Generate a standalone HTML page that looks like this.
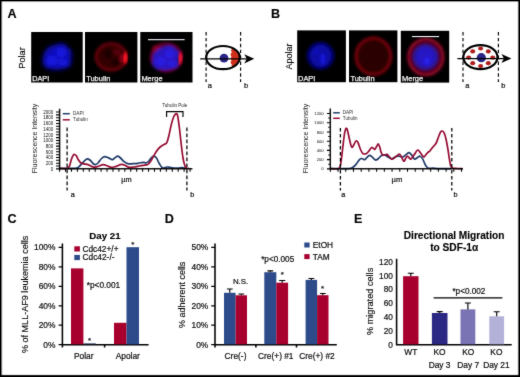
<!DOCTYPE html>
<html><head><meta charset="utf-8"><title>Figure</title>
<style>
html,body{margin:0;padding:0;background:#fff;}
body{width:520px;height:377px;overflow:hidden;}
svg{display:block;font-family:"Liberation Sans",sans-serif;}
text{stroke:#0c0c0c;stroke-width:0.2px;paint-order:stroke;}
text.w{stroke:#f4f4f4;stroke-width:0.25px;}
text.b{stroke:#000;stroke-width:0.12px;}
text.t{stroke:none;}
text.L{stroke:#000;stroke-width:0.12px;}
text.r{stroke-width:0.15px;}
</style></head><body>
<svg width="520" height="377" viewBox="0 0 520 377">
<defs>
<filter id="b1" x="-30%" y="-30%" width="160%" height="160%"><feGaussianBlur stdDeviation="1.8"/></filter>
<filter id="b2" x="-30%" y="-30%" width="160%" height="160%"><feGaussianBlur stdDeviation="1.1"/></filter>
<filter id="soft" filterUnits="userSpaceOnUse" x="-4" y="-4" width="528" height="385" color-interpolation-filters="sRGB"><feConvolveMatrix order="3" kernelMatrix="1 4 1 4 40 4 1 4 1" divisor="60" edgeMode="duplicate" preserveAlpha="false"/></filter>
<clipPath id="cA1"><rect x="31.2" y="32" width="51.4" height="50.6"/></clipPath>
<clipPath id="cA2"><rect x="85" y="32" width="52.3" height="50.6"/></clipPath>
<clipPath id="cA3"><rect x="140.3" y="32" width="52.2" height="50.6"/></clipPath>
<clipPath id="cB1"><rect x="297.2" y="30.6" width="48.5" height="51.6"/></clipPath>
<clipPath id="cB2"><rect x="349" y="30.6" width="48.5" height="51.6"/></clipPath>
<clipPath id="cB3"><rect x="401" y="30.6" width="48.4" height="51.6"/></clipPath>
</defs>
<rect x="0" y="0" width="520" height="377" fill="#fff"/>
<g filter="url(#soft)">

<text class="L" x="7.5" y="18" font-size="12.6" font-weight="bold" fill="#000">A</text>
<text class="L" x="271.0" y="18" font-size="12.6" font-weight="bold" fill="#000">B</text>
<text class="L" x="7.6" y="223.3" font-size="12.6" font-weight="bold" fill="#000">C</text>
<text class="L" x="164.8" y="223.3" font-size="12.6" font-weight="bold" fill="#000">D</text>
<text class="L" x="354.0" y="223.3" font-size="12.6" font-weight="bold" fill="#000">E</text>
<clipPath id="mp0"><rect x="31.2" y="32" width="51.5" height="50.5"/></clipPath>
<rect x="31.2" y="32" width="51.5" height="50.5" fill="#000"/>
<clipPath id="mp1"><rect x="85" y="32" width="52.4" height="50.5"/></clipPath>
<rect x="85" y="32" width="52.4" height="50.5" fill="#000"/>
<clipPath id="mp2"><rect x="140.3" y="32" width="52.2" height="50.5"/></clipPath>
<rect x="140.3" y="32" width="52.2" height="50.5" fill="#000"/>
<clipPath id="mp3"><rect x="297.2" y="30.4" width="48.7" height="51.8"/></clipPath>
<rect x="297.2" y="30.4" width="48.7" height="51.8" fill="#000"/>
<clipPath id="mp4"><rect x="349" y="30.4" width="48.4" height="51.8"/></clipPath>
<rect x="349" y="30.4" width="48.4" height="51.8" fill="#000"/>
<clipPath id="mp5"><rect x="400.8" y="30.8" width="48.4" height="51.8"/></clipPath>
<rect x="400.8" y="30.8" width="48.4" height="51.8" fill="#000"/>
<g clip-path="url(#mp0)"><g filter="url(#b1)" transform="translate(57 57.4) scale(1.08) translate(-57 -57.4)"><ellipse cx="57" cy="57.4" rx="12.8" ry="11.6" fill="#0c0cb4"/><ellipse cx="60.6" cy="50.6" rx="7" ry="6.4" fill="#0c0cb4"/><ellipse cx="51" cy="61.0" rx="7.6" ry="7.4" fill="#0c0cb4"/><ellipse cx="66" cy="52.9" rx="4.6" ry="4.6" fill="#0c0cb4"/><ellipse cx="65" cy="62.9" rx="5" ry="4.6" fill="#0c0cb4"/><ellipse cx="61" cy="52.8" rx="5" ry="4.6" fill="#1616e0"/><ellipse cx="52.4" cy="60.4" rx="5.5" ry="4.8" fill="#1616e0"/><ellipse cx="63" cy="62.4" rx="4" ry="3.2" fill="#1616e0"/><circle cx="71.6" cy="58.4" r="2" fill="#000"/></g></g>
<g clip-path="url(#mp1)"><g filter="url(#b1)"><ellipse cx="111.2" cy="56.8" rx="15.4" ry="13.4" fill="#330006"/><ellipse cx="111.2" cy="56.8" rx="15.4" ry="13.4" fill="none" stroke="#70000c" stroke-width="2.4"/><ellipse cx="108" cy="54" rx="4" ry="5" fill="#1c0003"/><ellipse cx="116" cy="62" rx="4" ry="4" fill="#1c0003"/><ellipse cx="117" cy="52" rx="3.5" ry="3" fill="#5a0008"/><ellipse cx="122.8" cy="58.5" rx="3.2" ry="4.4" fill="#8a0612"/></g><g filter="url(#b2)"><path d="M125.4 52.6Q128.2 58 125.2 63Q123.2 58 125.4 52.6Z" fill="#ff1424" stroke="#ff1424" stroke-width="1.6"/></g></g>
<g clip-path="url(#mp2)"><g filter="url(#b1)"><ellipse cx="166.4" cy="57.4" rx="15.4" ry="13.8" fill="#3a0028"/><ellipse cx="166.4" cy="57.4" rx="15.4" ry="13.8" fill="none" stroke="#700030" stroke-width="2.4"/><ellipse cx="157" cy="49" rx="5" ry="4" fill="#8a0020"/><ellipse cx="165.6" cy="58.6" rx="12.8" ry="11.6" fill="#2a14bc"/><ellipse cx="169.2" cy="51.800000000000004" rx="7" ry="6.4" fill="#2a14bc"/><ellipse cx="159.6" cy="62.2" rx="7.6" ry="7.4" fill="#2a14bc"/><ellipse cx="174.6" cy="54.1" rx="4.6" ry="4.6" fill="#2a14bc"/><ellipse cx="173.6" cy="64.1" rx="5" ry="4.6" fill="#2a14bc"/><ellipse cx="169.6" cy="54.0" rx="5" ry="4.6" fill="#2a1ae0"/><ellipse cx="161.0" cy="61.6" rx="5.5" ry="4.8" fill="#2a1ae0"/><ellipse cx="171.6" cy="63.6" rx="4" ry="3.2" fill="#2a1ae0"/><circle cx="180.2" cy="59.6" r="2" fill="#000"/></g><g filter="url(#b2)"><path d="M180.4 53Q183 58.4 180 63.4Q178.4 58.4 180.4 53Z" fill="#ff1430" stroke="#ff1430" stroke-width="1.6"/></g></g>
<rect x="148" y="39.1" width="36.6" height="1.1" fill="#f4f4ff"/>
<text class="w" x="32.2" y="81" font-size="7.28" fill="#f4f4f4">DAPI</text>
<text class="w" x="86.2" y="81" font-size="7.46" fill="#f4f4f4">Tubulin</text>
<text class="w" x="141.4" y="81" font-size="7.48" fill="#f4f4f4">Merge</text>
<g clip-path="url(#mp3)"><g filter="url(#b1)"><ellipse cx="320.5" cy="55.8" rx="14" ry="14" fill="#06066c"/><ellipse cx="320.5" cy="55.8" rx="10.4" ry="10.8" fill="#0c0ca4"/><ellipse cx="322.8" cy="59" rx="2.4" ry="5.6" fill="#1414dc"/><ellipse cx="316" cy="52" rx="2.4" ry="2.4" fill="#1010c0"/></g></g>
<g clip-path="url(#mp4)"><g filter="url(#b1)"><ellipse cx="373.4" cy="56.3" rx="17.6" ry="18.4" fill="#2a0004"/><ellipse cx="373.4" cy="56.3" rx="17.6" ry="18.4" fill="none" stroke="#8a000e" stroke-width="2.3"/></g></g>
<g clip-path="url(#mp5)"><g filter="url(#b1)"><ellipse cx="425.8" cy="57" rx="17.4" ry="18" fill="#48001c"/><ellipse cx="425.8" cy="57" rx="17.4" ry="18" fill="none" stroke="#98082a" stroke-width="2.6"/><ellipse cx="425.6" cy="57" rx="12.6" ry="12.6" fill="#2c1298"/><ellipse cx="425.6" cy="57" rx="9.6" ry="10" fill="#2616c4"/><ellipse cx="427" cy="61" rx="2.6" ry="3.6" fill="#2a20f0"/></g></g>
<rect x="411.9" y="36" width="27.2" height="1.1" fill="#f0f4ff"/>
<text class="w" x="298.0" y="81" font-size="7.46" fill="#f4f4f4">DAPI</text>
<text class="w" x="350.4" y="81" font-size="7.46" fill="#f4f4f4">Tubulin</text>
<text class="w" x="402.0" y="81" font-size="7.48" fill="#f4f4f4">Merge</text>
<text class="r" transform="translate(24.9 58.0) rotate(-90) scale(0.9441 1)" font-size="9.8" text-anchor="middle" fill="#0c0c0c">Polar</text>
<text class="r" transform="translate(292.2 56.5) rotate(-90) scale(0.9249 1)" font-size="9.8" text-anchor="middle" fill="#0c0c0c">Apolar</text>
<path d="M206.1 32V82M240.6 32V82" stroke="#000" stroke-width="1.15" stroke-dasharray="3.4 2.5" fill="none"/>
<clipPath id="ce1"><ellipse cx="223" cy="57.6" rx="16.3" ry="11.1"/></clipPath>
<g fill="#d0301c" clip-path="url(#ce1)"><circle cx="233.5" cy="50.4" r="2.4"/><circle cx="236.5" cy="53.4" r="2.8"/><circle cx="233.2" cy="54.6" r="2.5"/><circle cx="237.5" cy="57.1" r="3.2"/><circle cx="233.4" cy="58.2" r="2.5"/><circle cx="236.5" cy="61.2" r="3.0"/><circle cx="233.2" cy="62.2" r="2.5"/><circle cx="234.0" cy="65.4" r="2.4"/><circle cx="239.0" cy="57.6" r="3"/></g>
<ellipse cx="223" cy="57.6" rx="16.8" ry="11.6" fill="none" stroke="#000" stroke-width="2.2"/>
<circle cx="224" cy="58.2" r="4.4" fill="#2a2585"/>
<path d="M200.2 58.8H248.2" stroke="#000" stroke-width="1.25" fill="none"/>
<path d="M254.2 58.8L244.2 54.199999999999996L246.79999999999998 58.8L244.2 63.4Z" fill="#000"/>
<path d="M463 32V82M498.4 32V82" stroke="#000" stroke-width="1.15" stroke-dasharray="3.4 2.5" fill="none"/>
<clipPath id="ce2"><ellipse cx="480.4" cy="57.2" rx="16.6" ry="11.5"/></clipPath>
<g fill="#b01c1c"><ellipse cx="472.7" cy="51.4" rx="2.5" ry="2.1"/><ellipse cx="480.6" cy="48.5" rx="2.5" ry="2.1"/><ellipse cx="488.3" cy="51.4" rx="2.5" ry="2.1"/><ellipse cx="492.7" cy="57.6" rx="2.5" ry="2.1"/><ellipse cx="488.3" cy="63.2" rx="2.5" ry="2.1"/><ellipse cx="480.6" cy="66.1" rx="2.5" ry="2.1"/><ellipse cx="472.7" cy="63.2" rx="2.5" ry="2.1"/><ellipse cx="468.6" cy="57.6" rx="2.5" ry="2.1"/></g>
<ellipse cx="480.4" cy="57.2" rx="17.1" ry="12.0" fill="none" stroke="#000" stroke-width="2.2"/>
<circle cx="481.3" cy="57.7" r="4.6" fill="#2a2585"/>
<path d="M457.4 58.5H505.4" stroke="#000" stroke-width="1.25" fill="none"/>
<path d="M511.4 58.5L501.4 53.9L504.0 58.5L501.4 63.1Z" fill="#000"/>
<text x="209.9" y="88.4" font-size="7.5" text-anchor="middle" fill="#0c0c0c">a</text>
<text x="246" y="88.4" font-size="7.5" text-anchor="middle" fill="#0c0c0c">b</text>
<text x="467.4" y="88.4" font-size="7.5" text-anchor="middle" fill="#0c0c0c">a</text>
<text x="503.4" y="88.4" font-size="7.5" text-anchor="middle" fill="#0c0c0c">b</text>
<text class="t" x="53.2" y="170.58" font-size="4.46" text-anchor="end" fill="#0c0c0c">0</text>
<text class="t" x="53.2" y="164.90" font-size="4.46" text-anchor="end" fill="#0c0c0c">200</text>
<text class="t" x="53.2" y="159.22" font-size="4.46" text-anchor="end" fill="#0c0c0c">400</text>
<text class="t" x="53.2" y="153.54" font-size="4.46" text-anchor="end" fill="#0c0c0c">600</text>
<text class="t" x="53.2" y="147.86" font-size="4.46" text-anchor="end" fill="#0c0c0c">800</text>
<text class="t" x="53.2" y="142.18" font-size="4.46" text-anchor="end" fill="#0c0c0c">1000</text>
<text class="t" x="53.2" y="136.50" font-size="4.46" text-anchor="end" fill="#0c0c0c">1200</text>
<text class="t" x="53.2" y="130.82" font-size="4.46" text-anchor="end" fill="#0c0c0c">1400</text>
<text class="t" x="53.2" y="125.14" font-size="4.46" text-anchor="end" fill="#0c0c0c">1600</text>
<text class="t" x="53.2" y="119.46" font-size="4.46" text-anchor="end" fill="#0c0c0c">1800</text>
<text class="t" x="53.2" y="113.78" font-size="4.46" text-anchor="end" fill="#0c0c0c">2000</text>
<text class="t" transform="translate(37.0 138.5) rotate(-90) scale(0.9275 1)" font-size="7.5" text-anchor="middle" fill="#222">Fluorescence Intensity</text>
<path d="M62.8 113.7H69.8" stroke="#1f3a68" stroke-width="1.5"/><path d="M62.8 119.8H69.8" stroke="#950c33" stroke-width="1.5"/>
<text class="t" x="73" y="115.3" font-size="4.6" fill="#2a2a2a">DAPI</text><text class="t" x="73" y="121.4" font-size="4.6" fill="#2a2a2a">Tubulin</text>
<text class="t" x="174.8" y="107" font-size="4.56" text-anchor="middle" fill="#222">Tubulin Pole</text>
<path d="M166.6 116.9V111.6H183V116.9" stroke="#000" stroke-width="1.15" fill="none"/>
<path d="M59.6 168.4C62.0 168.4 70.9 168.5 74.0 168.4C77.1 168.3 76.7 168.4 78.0 167.6C79.3 166.8 80.8 164.8 82.0 163.5C83.2 162.2 84.5 160.6 85.5 159.8C86.5 159.0 86.9 158.7 87.7 158.8C88.5 158.9 89.6 159.7 90.5 160.5C91.4 161.3 92.2 162.8 93.0 163.5C93.8 164.2 94.6 164.7 95.4 164.6C96.2 164.5 97.0 164.0 98.0 163.0C99.0 162.0 100.4 159.6 101.5 158.5C102.6 157.4 103.5 156.8 104.6 156.6C105.7 156.4 106.7 157.1 108.0 157.6C109.3 158.1 111.1 159.7 112.3 159.7C113.5 159.7 114.3 158.2 115.2 157.6C116.1 157.0 116.8 156.1 117.7 156.2C118.6 156.3 119.5 157.1 120.5 158.0C121.5 158.9 122.7 160.6 124.0 161.6C125.3 162.6 127.0 163.5 128.5 163.8C130.0 164.2 131.4 163.8 133.0 163.7C134.6 163.6 136.3 163.5 138.0 163.3C139.7 163.1 141.7 162.4 143.0 162.3C144.3 162.2 145.1 162.9 146.0 162.8C146.9 162.7 147.6 162.4 148.5 161.5C149.4 160.6 150.6 158.5 151.5 157.6C152.4 156.7 153.0 156.1 153.8 156.2C154.6 156.3 155.6 156.7 156.5 158.0C157.4 159.3 158.5 162.4 159.5 164.0C160.5 165.6 161.4 167.2 162.3 167.8C163.2 168.4 164.1 167.7 165.0 167.6C165.9 167.5 166.5 167.0 167.7 167.0C168.9 167.0 170.3 167.6 172.0 167.8C173.7 168.0 176.3 168.0 178.0 168.0C179.7 168.0 180.6 167.5 182.0 167.6C183.4 167.7 185.8 168.3 186.5 168.4" stroke="#1f3a68" stroke-width="1.7" fill="none" stroke-linejoin="round"/>
<path d="M59.6 168.4C60.8 168.4 65.3 168.7 67.0 168.3C68.7 167.9 68.8 167.6 69.5 166.0C70.2 164.4 70.9 160.8 71.5 159.0C72.1 157.2 72.7 155.9 73.2 155.2C73.7 154.4 74.1 154.4 74.6 154.5C75.1 154.6 75.5 154.7 76.2 155.6C76.9 156.5 77.7 158.8 78.5 160.0C79.3 161.2 80.1 162.3 81.0 163.0C81.9 163.7 82.8 163.6 84.0 163.9C85.2 164.2 86.8 164.2 88.0 164.6C89.2 165.0 90.4 166.0 91.5 166.4C92.6 166.8 93.4 167.2 94.6 167.2C95.8 167.2 97.1 166.6 98.5 166.2C99.9 165.8 101.6 164.7 103.0 164.6C104.4 164.5 105.6 165.3 107.0 165.8C108.4 166.3 110.0 167.3 111.5 167.4C113.0 167.5 114.3 166.9 116.0 166.4C117.7 165.9 119.9 164.4 121.5 164.3C123.1 164.2 124.2 165.1 125.5 165.6C126.8 166.1 127.8 167.2 129.2 167.4C130.6 167.6 132.4 167.2 134.0 167.0C135.6 166.8 137.5 166.3 139.0 166.0C140.5 165.7 141.6 165.6 143.0 165.3C144.4 165.0 146.4 165.0 147.7 164.4C148.9 163.8 149.6 162.7 150.5 161.5C151.4 160.3 152.1 158.8 153.0 157.2C153.9 155.6 155.1 153.4 156.0 152.0C156.9 150.6 157.6 149.6 158.5 148.6C159.4 147.6 160.5 146.7 161.5 146.0C162.5 145.3 163.7 144.9 164.6 144.3C165.5 143.7 166.1 144.0 166.8 142.6C167.5 141.2 168.1 138.9 168.8 136.0C169.5 133.1 170.4 128.2 171.2 125.0C172.0 121.8 172.9 118.8 173.6 117.0C174.3 115.2 174.9 114.7 175.4 114.2C175.9 113.7 176.2 113.5 176.6 113.8C177.0 114.1 177.2 113.6 177.7 116.0C178.2 118.4 178.8 123.3 179.4 128.0C180.0 132.7 180.6 139.0 181.2 144.0C181.8 149.0 182.4 154.4 183.0 158.0C183.6 161.6 184.2 163.8 184.8 165.5C185.4 167.2 185.7 167.7 186.4 168.2C187.1 168.7 188.6 168.4 189.0 168.4" stroke="#950c33" stroke-width="1.7" fill="none" stroke-linejoin="round"/>
<path d="M56.0 168.85H59.6M56.0 166.01H59.6M56.0 163.17H59.6M56.0 160.33H59.6M56.0 157.49H59.6M56.0 154.65H59.6M56.0 151.81H59.6M56.0 148.97H59.6M56.0 146.13H59.6M56.0 143.29H59.6M56.0 140.45H59.6M56.0 137.61H59.6M56.0 134.77H59.6M56.0 131.93H59.6M56.0 129.09H59.6M56.0 126.25H59.6M56.0 123.41H59.6M56.0 120.57H59.6M56.0 117.73H59.6M56.0 114.89H59.6M56.0 112.05H59.6" stroke="#000" stroke-width="1.05" fill="none"/>
<path d="M59.60 168.85v2.9M65.53 168.85v2.9M71.46 168.85v2.9M77.39 168.85v2.9M83.32 168.85v2.9M89.25 168.85v2.9M95.18 168.85v2.9M101.11 168.85v2.9M107.04 168.85v2.9M112.97 168.85v2.9M118.90 168.85v2.9M124.83 168.85v2.9M130.76 168.85v2.9M136.69 168.85v2.9M142.62 168.85v2.9M148.55 168.85v2.9M154.48 168.85v2.9M160.41 168.85v2.9M166.34 168.85v2.9M172.27 168.85v2.9M178.20 168.85v2.9M184.13 168.85v2.9M190.06 168.85v2.9" stroke="#000" stroke-width="1.05" fill="none"/>
<path d="M59.6 108.8V169.15M59.0 168.85H192.4" stroke="#000" stroke-width="1.5" fill="none" opacity="0.92"/>
<path d="M67.1 127.6V190.4M186.9 127.6V190.4" stroke="#000" stroke-width="1.25" stroke-dasharray="3.6 2.4" fill="none"/>
<text x="126.4" y="181.9" font-size="7.38" text-anchor="middle" fill="#0c0c0c">µm</text>
<text x="72.7" y="197" font-size="7.3" text-anchor="middle" fill="#0c0c0c">a</text><text x="192.2" y="197" font-size="7.3" text-anchor="middle" fill="#0c0c0c">b</text>
<text class="t" x="323.7" y="170.47" font-size="4.24" text-anchor="end" fill="#0c0c0c">0</text>
<text class="t" x="323.7" y="161.24" font-size="4.24" text-anchor="end" fill="#0c0c0c">200</text>
<text class="t" x="323.7" y="152.01" font-size="4.24" text-anchor="end" fill="#0c0c0c">400</text>
<text class="t" x="323.7" y="142.78" font-size="4.24" text-anchor="end" fill="#0c0c0c">600</text>
<text class="t" x="323.7" y="133.55" font-size="4.24" text-anchor="end" fill="#0c0c0c">800</text>
<text class="t" x="323.7" y="124.32" font-size="4.24" text-anchor="end" fill="#0c0c0c">1000</text>
<text class="t" x="323.7" y="115.09" font-size="4.24" text-anchor="end" fill="#0c0c0c">1200</text>
<text class="t" transform="translate(308.0 138.5) rotate(-90) scale(0.9275 1)" font-size="7.5" text-anchor="middle" fill="#222">Fluorescence Intensity</text>
<path d="M333.2 112.8H339.8" stroke="#1f3a68" stroke-width="1.5"/><path d="M333.2 118.3H339.8" stroke="#950c33" stroke-width="1.5"/>
<text class="t" x="342.8" y="114.3" font-size="4.5" fill="#2a2a2a">DAPI</text><text class="t" x="342.8" y="119.9" font-size="4.5" fill="#2a2a2a">Tubulin</text>
<path d="M330.0 168.6C333.0 168.6 344.4 168.7 348.0 168.6C351.6 168.5 350.4 168.4 351.5 168.0C352.6 167.6 353.6 166.8 354.5 166.0C355.4 165.2 356.2 164.1 357.0 163.0C357.8 161.9 358.8 160.3 359.5 159.6C360.2 158.8 360.6 158.6 361.2 158.5C361.8 158.4 362.4 158.8 363.0 159.0C363.6 159.2 364.0 159.9 364.6 159.7C365.2 159.5 366.0 158.3 366.8 157.6C367.6 156.9 368.6 155.5 369.5 155.4C370.4 155.3 371.2 156.1 372.0 156.8C372.8 157.5 373.8 158.9 374.5 159.4C375.2 159.9 375.5 160.2 376.2 160.0C376.9 159.8 377.6 159.2 378.5 158.5C379.4 157.8 380.4 156.2 381.5 155.6C382.6 155.0 383.9 155.0 385.0 155.2C386.1 155.4 386.9 156.4 388.0 157.0C389.1 157.6 390.4 158.7 391.5 158.8C392.6 158.9 393.6 157.8 394.5 157.4C395.4 157.0 396.1 156.4 397.0 156.2C397.9 156.0 399.0 156.3 400.0 156.4C401.0 156.5 402.0 157.3 403.0 157.0C404.0 156.7 405.0 155.3 406.0 154.6C407.0 153.9 408.2 152.4 409.2 152.6C410.2 152.8 411.1 154.4 412.0 155.5C412.9 156.6 413.7 158.8 414.6 159.2C415.5 159.5 416.6 158.1 417.5 157.6C418.4 157.1 419.2 156.0 420.0 156.2C420.8 156.4 421.8 157.5 422.5 158.6C423.2 159.7 423.9 161.7 424.5 163.0C425.1 164.3 425.5 165.3 426.2 166.2C426.9 167.1 427.4 167.9 428.5 168.2C429.6 168.5 431.1 168.1 433.0 168.2C434.9 168.3 437.0 168.5 440.0 168.6C443.0 168.7 449.2 168.6 451.0 168.6" stroke="#1f3a68" stroke-width="1.7" fill="none" stroke-linejoin="round"/>
<path d="M330.0 168.6C331.4 168.6 336.8 169.1 338.5 168.5C340.2 167.9 339.8 168.1 340.5 165.0C341.2 161.9 341.9 155.0 342.5 150.0C343.1 145.0 343.8 138.5 344.3 135.0C344.8 131.5 345.2 130.3 345.6 129.2C346.0 128.1 346.1 128.3 346.4 128.4C346.7 128.5 346.9 128.2 347.4 130.0C347.9 131.8 348.9 136.8 349.5 139.5C350.1 142.2 350.7 144.7 351.2 146.0C351.7 147.3 351.9 147.4 352.4 147.2C352.9 146.9 353.4 145.6 354.0 144.5C354.6 143.4 355.5 141.1 356.2 140.8C356.9 140.5 357.3 141.1 358.0 142.5C358.7 143.9 359.7 147.7 360.5 149.5C361.3 151.3 362.1 152.9 363.0 153.6C363.9 154.3 365.3 153.9 366.2 153.6C367.1 153.2 367.6 152.5 368.5 151.5C369.4 150.5 370.7 148.2 371.5 147.6C372.3 147.0 372.6 147.9 373.2 148.2C373.8 148.5 374.2 149.7 374.8 149.4C375.4 149.1 376.0 147.4 376.6 146.5C377.2 145.6 377.7 143.9 378.2 143.9C378.7 143.9 379.1 145.2 379.6 146.5C380.1 147.8 380.5 150.6 381.0 152.0C381.5 153.4 382.0 154.3 382.6 154.8C383.2 155.3 384.1 155.1 384.8 155.0C385.5 154.9 386.2 154.1 387.0 154.4C387.8 154.7 388.7 156.2 389.5 157.0C390.3 157.8 391.0 159.2 392.0 159.2C393.0 159.2 394.3 157.8 395.5 157.0C396.7 156.2 398.2 154.2 399.2 154.2C400.2 154.2 400.7 155.8 401.5 157.0C402.3 158.2 403.2 160.9 403.8 161.2C404.4 161.5 404.9 159.8 405.4 159.0C405.9 158.2 406.4 156.4 407.0 156.2C407.6 155.9 408.4 157.0 409.0 157.5C409.6 158.0 410.0 159.6 410.8 159.2C411.6 158.8 412.9 156.5 414.0 155.0C415.1 153.5 416.6 150.3 417.7 150.0C418.8 149.7 419.5 151.8 420.5 153.0C421.5 154.2 422.9 156.7 423.8 157.0C424.7 157.3 425.2 155.5 425.8 154.8C426.4 154.1 427.0 153.3 427.7 152.6C428.4 151.9 429.2 151.6 430.0 150.8C430.8 150.0 431.6 148.6 432.3 147.7C433.1 146.8 433.9 146.0 434.5 145.2C435.1 144.4 435.5 144.4 436.2 143.0C436.9 141.6 437.8 138.8 438.5 137.0C439.2 135.2 440.0 133.0 440.6 132.0C441.2 131.0 441.7 130.9 442.3 131.0C442.9 131.1 443.4 131.3 444.0 132.6C444.6 133.9 445.4 136.4 446.0 139.0C446.6 141.6 447.1 144.7 447.7 148.0C448.3 151.3 448.9 156.0 449.4 159.0C449.9 162.0 450.3 164.5 450.8 166.0C451.3 167.5 451.5 167.6 452.5 168.0C453.5 168.4 455.3 168.4 457.0 168.5C458.7 168.6 461.6 168.7 462.5 168.7" stroke="#950c33" stroke-width="1.7" fill="none" stroke-linejoin="round"/>
<path d="M326.90000000000003 168.85H330.3M328.3 164.23H330.3M326.90000000000003 159.62H330.3M328.3 155.00H330.3M326.90000000000003 150.39H330.3M328.3 145.77H330.3M326.90000000000003 141.16H330.3M328.3 136.54H330.3M326.90000000000003 131.93H330.3M328.3 127.32H330.3M326.90000000000003 122.70H330.3M328.3 118.08H330.3M326.90000000000003 113.47H330.3" stroke="#000" stroke-width="1.05" fill="none"/>
<path d="M330.30 168.85v2.9M338.02 168.85v2.9M345.74 168.85v2.9M353.46 168.85v2.9M361.18 168.85v2.9M368.90 168.85v2.9M376.62 168.85v2.9M384.34 168.85v2.9M392.06 168.85v2.9M399.78 168.85v2.9M407.50 168.85v2.9M415.22 168.85v2.9M422.94 168.85v2.9M430.66 168.85v2.9M438.38 168.85v2.9M446.10 168.85v2.9M453.82 168.85v2.9M461.54 168.85v2.9" stroke="#000" stroke-width="1.05" fill="none"/>
<path d="M330.3 108.6V169.15M329.7 168.85H463" stroke="#000" stroke-width="1.5" fill="none" opacity="0.92"/>
<path d="M340.4 128V190.4M451.8 128V190.4" stroke="#000" stroke-width="1.25" stroke-dasharray="3.6 2.4" fill="none"/>
<text x="396.9" y="181.9" font-size="7.66" text-anchor="middle" fill="#0c0c0c">µm</text>
<text x="343.3" y="197" font-size="7.3" text-anchor="middle" fill="#0c0c0c">a</text><text x="455.6" y="197" font-size="7.3" text-anchor="middle" fill="#0c0c0c">b</text>
<text class="b" x="104.9" y="238.5" font-size="9.74" font-weight="bold" text-anchor="middle" fill="#000">Day 21</text>
<text class="r" transform="translate(28.4 294.4) rotate(-90) scale(0.9460 1)" font-size="9.6" text-anchor="middle" fill="#0c0c0c">% of MLL-AF9 leukemia cells</text>
<path d="M62.4 243.6V347.4M61.7 344.7H148.6M104.6 344.7V347.4" stroke="#000" stroke-width="1.55" fill="none"/>
<text x="55.4" y="347.70" font-size="8.4" text-anchor="end" fill="#0c0c0c">0%</text>
<text x="55.4" y="328.24" font-size="8.4" text-anchor="end" fill="#0c0c0c">20%</text>
<text x="55.4" y="308.78" font-size="8.4" text-anchor="end" fill="#0c0c0c">40%</text>
<text x="55.4" y="289.32" font-size="8.4" text-anchor="end" fill="#0c0c0c">60%</text>
<text x="55.4" y="269.86" font-size="8.4" text-anchor="end" fill="#0c0c0c">80%</text>
<text x="55.4" y="250.40" font-size="8.4" text-anchor="end" fill="#0c0c0c">100%</text>
<path d="M58.6 344.70H62.4M58.6 325.24H62.4M58.6 305.78H62.4M58.6 286.32H62.4M58.6 266.86H62.4M58.6 247.40H62.4" stroke="#000" stroke-width="1.25" fill="none"/>
<rect x="71" y="268.4" width="12.4" height="75.9" fill="#a8002e"/>
<rect x="83.4" y="343.4" width="12.4" height="0.9" fill="#26355c"/>
<rect x="114" y="322.8" width="12.5" height="21.5" fill="#a8002e"/>
<rect x="126.5" y="247.2" width="12.5" height="97.1" fill="#2d4b8b"/>
<rect x="74.3" y="246.3" width="5.6" height="5.2" fill="#a8002e"/><rect x="74.3" y="254.9" width="5.6" height="5.2" fill="#2d4b8b"/>
<text x="82.5" y="251.6" font-size="8.30" fill="#0c0c0c">Cdc42+/+</text>
<text x="82.5" y="260.3" font-size="8.35" fill="#0c0c0c">Cdc42-/-</text>
<text x="86.7" y="287.7" font-size="8.3" fill="#0c0c0c">*p&lt;0.001</text>
<text x="89.6" y="343.4" font-size="8" text-anchor="middle" fill="#0c0c0c">*</text>
<text x="132.9" y="246.6" font-size="8" text-anchor="middle" fill="#0c0c0c">*</text>
<text x="83.8" y="358.5" font-size="8.4" text-anchor="middle" fill="#0c0c0c">Polar</text>
<text x="127.8" y="358.5" font-size="8.4" text-anchor="middle" fill="#0c0c0c">Apolar</text>
<text class="r" transform="translate(185.1 294.8) rotate(-90) scale(0.9356 1)" font-size="9.6" text-anchor="middle" fill="#0c0c0c">% adherent cells</text>
<path d="M215 243.6V347.4M214.3 344.7H336.8M255.9 344.7V347.4M296.5 344.7V347.4" stroke="#000" stroke-width="1.55" fill="none"/>
<text x="208.3" y="347.70" font-size="8.4" text-anchor="end" fill="#0c0c0c">0%</text>
<text x="208.3" y="328.24" font-size="8.4" text-anchor="end" fill="#0c0c0c">10%</text>
<text x="208.3" y="308.78" font-size="8.4" text-anchor="end" fill="#0c0c0c">20%</text>
<text x="208.3" y="289.32" font-size="8.4" text-anchor="end" fill="#0c0c0c">30%</text>
<text x="208.3" y="269.86" font-size="8.4" text-anchor="end" fill="#0c0c0c">40%</text>
<text x="208.3" y="250.40" font-size="8.4" text-anchor="end" fill="#0c0c0c">50%</text>
<path d="M211.2 344.70H215M211.2 325.24H215M211.2 305.78H215M211.2 286.32H215M211.2 266.86H215M211.2 247.40H215" stroke="#000" stroke-width="1.25" fill="none"/>
<rect x="224.0" y="292.8" width="11.6" height="51.50" fill="#2d4b8b"/>
<path d="M229.80 292.8V289.0M226.90 289.0H232.70" stroke="#000" stroke-width="1.15" fill="none"/>
<rect x="235.6" y="295.3" width="11.4" height="49.00" fill="#a8002e"/>
<path d="M241.30 295.3V294.0M238.40 294.0H244.20" stroke="#000" stroke-width="1.15" fill="none"/>
<rect x="264.3" y="272.2" width="12.0" height="72.10" fill="#2d4b8b"/>
<path d="M270.30 272.2V270.8M267.40 270.8H273.20" stroke="#000" stroke-width="1.15" fill="none"/>
<rect x="276.3" y="282.7" width="11.8" height="61.60" fill="#a8002e"/>
<path d="M282.20 282.7V280.5M279.10 280.5H285.30" stroke="#000" stroke-width="1.15" fill="none"/>
<rect x="305.6" y="279.9" width="11.5" height="64.40" fill="#2d4b8b"/>
<path d="M311.35 279.9V278.5M308.45 278.5H314.25" stroke="#000" stroke-width="1.15" fill="none"/>
<rect x="317.1" y="295.2" width="11.4" height="49.10" fill="#a8002e"/>
<path d="M322.80 295.2V293.5M319.90 293.5H325.70" stroke="#000" stroke-width="1.15" fill="none"/>
<text x="240.6" y="283.9" font-size="7.9" text-anchor="middle" fill="#0c0c0c">N.S.</text>
<text x="261.2" y="262.3" font-size="8.2" fill="#0c0c0c">*p&lt;0.005</text>
<text x="282.3" y="276.6" font-size="8" text-anchor="middle" fill="#0c0c0c">*</text>
<text x="322.6" y="291.2" font-size="8" text-anchor="middle" fill="#0c0c0c">*</text>
<rect x="304.3" y="242.5" width="5.3" height="5" fill="#2d4b8b"/><rect x="304.3" y="254.1" width="5.3" height="5" fill="#a8002e"/>
<text x="312.8" y="247.9" font-size="8.3" fill="#0c0c0c">EtOH</text>
<text x="312.8" y="259.7" font-size="8.3" fill="#0c0c0c">TAM</text>
<text x="235.5" y="358.5" font-size="8.4" text-anchor="middle" fill="#0c0c0c">Cre(-)</text>
<text x="275.8" y="358.5" font-size="8.33" text-anchor="middle" fill="#0c0c0c">Cre(+) #1</text>
<text x="317" y="358.5" font-size="8.33" text-anchor="middle" fill="#0c0c0c">Cre(+) #2</text>
<text class="b" x="454.1" y="238.6" font-size="10.12" font-weight="bold" text-anchor="middle" fill="#000">Directional Migration</text>
<text class="b" x="454.2" y="251" font-size="10.16" font-weight="bold" text-anchor="middle" fill="#000">to SDF-1α</text>
<text class="r" transform="translate(373.4 301.4) rotate(-90) scale(0.9570 1)" font-size="9.6" text-anchor="middle" fill="#0c0c0c">% migrated cells</text>
<path d="M396.6 258.8V344.75H511.7" stroke="#000" stroke-width="1.55" fill="none"/>
<text x="392.9" y="347.50" font-size="8.3" text-anchor="end" fill="#0c0c0c">0</text>
<text x="392.9" y="333.72" font-size="8.3" text-anchor="end" fill="#0c0c0c">20</text>
<text x="392.9" y="319.94" font-size="8.3" text-anchor="end" fill="#0c0c0c">40</text>
<text x="392.9" y="306.16" font-size="8.3" text-anchor="end" fill="#0c0c0c">60</text>
<text x="392.9" y="292.38" font-size="8.3" text-anchor="end" fill="#0c0c0c">80</text>
<text x="392.9" y="278.60" font-size="8.3" text-anchor="end" fill="#0c0c0c">100</text>
<text x="392.9" y="264.82" font-size="8.3" text-anchor="end" fill="#0c0c0c">120</text>
<rect x="403.1" y="276.2" width="15.4" height="68.10" fill="#a8002e"/>
<path d="M410.80 276.2V273.2M407.80 273.2H413.80" stroke="#000" stroke-width="1.15" fill="none"/>
<rect x="431.9" y="313.0" width="15.6" height="31.30" fill="#2b2883"/>
<path d="M439.70 313.0V311.6M436.70 311.6H442.70" stroke="#000" stroke-width="1.15" fill="none"/>
<rect x="460.5" y="309.4" width="14.8" height="34.90" fill="#7a73b4"/>
<path d="M467.90 309.4V303.0M464.90 303.0H470.90" stroke="#000" stroke-width="1.15" fill="none"/>
<rect x="489.3" y="316.3" width="14.8" height="28.00" fill="#b4b1d8"/>
<path d="M496.70 316.3V311.7M493.70 311.7H499.70" stroke="#000" stroke-width="1.15" fill="none"/>
<text x="452.4" y="293.6" font-size="8.2" fill="#0c0c0c">*p&lt;0.002</text>
<path d="M433.6 297.9H502.4" stroke="#000" stroke-width="1.2" fill="none"/>
<text x="410.8" y="354.9" font-size="8.4" text-anchor="middle" fill="#0c0c0c">WT</text>
<text x="439.6" y="354.9" font-size="8.4" text-anchor="middle" fill="#0c0c0c">KO</text>
<text x="439.6" y="367.6" font-size="8.4" text-anchor="middle" fill="#0c0c0c">Day 3</text>
<text x="468.2" y="354.9" font-size="8.4" text-anchor="middle" fill="#0c0c0c">KO</text>
<text x="468.2" y="367.6" font-size="8.4" text-anchor="middle" fill="#0c0c0c">Day 7</text>
<text x="496.4" y="354.9" font-size="8.4" text-anchor="middle" fill="#0c0c0c">KO</text>
<text x="496.4" y="367.6" font-size="8.4" text-anchor="middle" fill="#0c0c0c">Day 21</text>
</g>
<g fill="#000" shape-rendering="crispEdges"><rect x="0" y="0" width="520" height="1"/><rect x="0" y="1" width="520" height="1" opacity="0.4"/><rect x="0" y="2" width="520" height="1" opacity="0.06"/><rect x="0" y="0" width="1" height="377"/><rect x="1" y="0" width="1" height="377" opacity="0.55"/><rect x="2" y="0" width="1" height="377" opacity="0.12"/><rect x="519" y="0" width="1" height="377"/><rect x="518" y="0" width="1" height="377" opacity="0.6"/><rect x="517" y="0" width="1" height="377" opacity="0.12"/><rect x="0" y="376" width="520" height="1"/><rect x="0" y="375" width="520" height="1" opacity="0.8"/><rect x="0" y="374" width="520" height="1" opacity="0.15"/></g>
</svg></body></html>
